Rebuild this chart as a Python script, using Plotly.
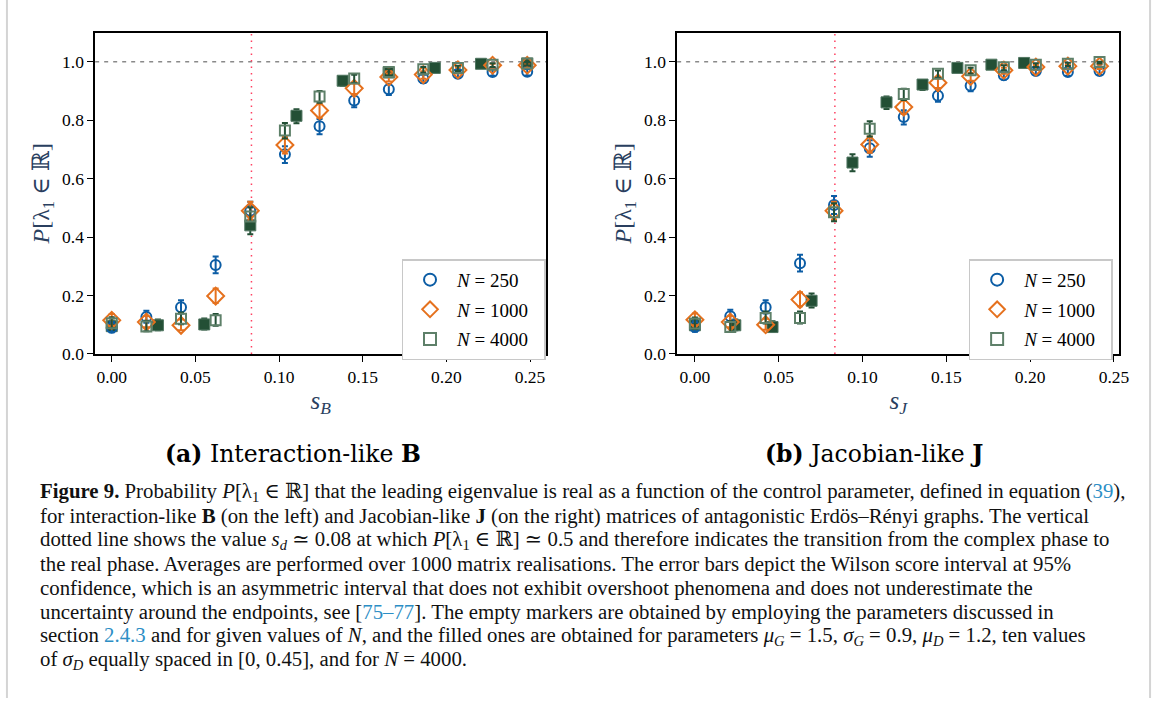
import numpy as np
import plotly.graph_objects as go
from plotly.subplots import make_subplots

# ---------------- data ----------------
# left panel: interaction-like B
sB_open = [0.0, 0.0207, 0.0414, 0.0621, 0.0828, 0.1035, 0.1242, 0.1449, 0.1656, 0.1862, 0.2069, 0.2276, 0.2483]
pB_250 = [0.090, 0.126, 0.160, 0.304, 0.490, 0.683, 0.779, 0.867, 0.906, 0.943, 0.959, 0.965, 0.966]
pB_1000 = [0.115, 0.109, 0.098, 0.198, 0.490, 0.715, 0.833, 0.909, 0.948, 0.956, 0.972, 0.988, 0.988]
pB_4000 = [0.105, 0.094, 0.120, 0.115, 0.470, 0.765, 0.881, 0.943, 0.965, 0.974, 0.979, 0.990, 0.994]
sB_filled = [0.0, 0.0276, 0.0553, 0.0828, 0.1104, 0.1380, 0.1655, 0.1931, 0.2207, 0.2483]
pB_filled = [0.095, 0.098, 0.101, 0.440, 0.815, 0.935, 0.963, 0.979, 0.993, 0.994]

# right panel: Jacobian-like J
sJ_open = [0.0, 0.0211, 0.0422, 0.0627, 0.0830, 0.1043, 0.1246, 0.1450, 0.1645, 0.1843, 0.2034, 0.2225, 0.2414]
pJ_250 = [0.092, 0.129, 0.160, 0.310, 0.510, 0.704, 0.811, 0.884, 0.918, 0.954, 0.968, 0.965, 0.968]
pJ_1000 = [0.117, 0.109, 0.100, 0.186, 0.490, 0.717, 0.845, 0.928, 0.950, 0.971, 0.982, 0.985, 0.985]
pJ_4000 = [0.104, 0.092, 0.123, 0.123, 0.485, 0.771, 0.890, 0.959, 0.971, 0.981, 0.990, 0.993, 0.999]
sJ_filled = [0.0, 0.0241, 0.0463, 0.0696, 0.0940, 0.1143, 0.1358, 0.1566, 0.1769, 0.1964]
pJ_filled = [0.098, 0.098, 0.092, 0.182, 0.655, 0.861, 0.922, 0.979, 0.990, 0.996]

N_labels = ["250", "1000", "4000"]
n_real = 1000          # matrix realisations (caption)
s_d = 0.0835           # transition value (dotted line)

x_ticks = [0.0, 0.05, 0.10, 0.15, 0.20, 0.25]
y_ticks = [0.0, 0.2, 0.4, 0.6, 0.8, 1.0]

# ---------------- style ----------------
BLUE = "#0C5DA5"
ORANGE = "#E5711E"
GREEN = "#234F35"
GREEN_EDGE = "#5E8069"
SERIF = "'Liberation Serif', 'DejaVu Serif', serif"
W, H = 1167, 708


def wilson(p, n=n_real, z=1.96):
    p = np.asarray(p, dtype=float)
    den = 1 + z * z / n
    c = (p + z * z / (2 * n)) / den
    h = z / den * np.sqrt(p * (1 - p) / n + z * z / (4 * n * n))
    return (c + h) - p, p - (c - h)


fig = make_subplots(rows=1, cols=2, horizontal_spacing=0.1)


def add_panel(col, s_open, series, s_fill, p_fill, legend_name):
    up, lo = wilson(p_fill)
    fig.add_trace(go.Scatter(
        x=s_fill, y=p_fill, mode="markers", showlegend=False,
        marker=dict(symbol="square", size=11, color=GREEN,
                    line=dict(color="#4F7560", width=1)),
        error_y=dict(type="data", symmetric=False, array=up, arrayminus=lo,
                     color=GREEN, thickness=2, width=3)), row=1, col=col)
    specs = [("circle-open", BLUE, BLUE, 10),
             ("diamond-open", ORANGE, ORANGE, 13),
             ("square-open", GREEN_EDGE, GREEN, 10)]
    for (sym, mcol, ecol, size), p, lab in zip(specs, series, N_labels):
        up, lo = wilson(p)
        fig.add_trace(go.Scatter(
            x=s_open, y=p, mode="markers", name=f"<i>N</i> = {lab}&nbsp;&nbsp;",
            legend=legend_name, legendgroup=legend_name + lab,
            marker=dict(symbol=sym, size=size, color=mcol,
                        line=dict(color=mcol, width=2)),
            error_y=dict(type="data", symmetric=False, array=up, arrayminus=lo,
                         color=ecol, thickness=2, width=3)), row=1, col=col)


add_panel(1, sB_open, [pB_250, pB_1000, pB_4000], sB_filled, pB_filled, "legend")
add_panel(2, sJ_open, [pJ_250, pJ_1000, pJ_4000], sJ_filled, pJ_filled, "legend2")

ydom = [1 - 359 / H, 1 - 33 / H]
axis_common = dict(showline=True, linecolor="black", linewidth=1.5, mirror=True,
                   ticks="outside", ticklen=6, tickwidth=1.3, tickcolor="black",
                   showgrid=False, zeroline=False,
                   tickfont=dict(family=SERIF, size=17.5, color="black"))

fig.update_layout(
    xaxis=dict(domain=[96 / W, 551 / W], range=[-0.0099, 0.2597], tickvals=x_ticks,
               tickformat=".2f",
               title=dict(text="<i>s</i><sub><i>B</i></sub>", font=dict(family=SERIF, size=25),
                          standoff=6), **axis_common),
    xaxis2=dict(domain=[683 / W, 1129 / W], range=[-0.0106, 0.2532], tickvals=x_ticks,
                tickformat=".2f",
                title=dict(text="<i>s</i><sub><i>J</i></sub>", font=dict(family=SERIF, size=25),
                           standoff=6), **axis_common),
    yaxis=dict(domain=ydom, range=[0, 1.1], tickvals=y_ticks, tickformat=".1f",
               title=dict(text="<i>P</i>[λ<sub>1</sub> ∈ ℝ]", font=dict(family=SERIF, size=24),
                          standoff=6), **axis_common),
    yaxis2=dict(domain=ydom, range=[0, 1.1], tickvals=y_ticks, tickformat=".1f",
                title=dict(text="<i>P</i>[λ<sub>1</sub> ∈ ℝ]", font=dict(family=SERIF, size=24),
                           standoff=6), **axis_common),
)

legend_common = dict(xanchor="left", yanchor="top", bgcolor="white",
                     bordercolor="#c8c8c8", borderwidth=1.5, tracegroupgap=2,
                     itemwidth=44,
                     font=dict(family=SERIF, size=19, color="black"),
                     itemsizing="constant")
LEG_L, LEG_R, LEG_T = 405, 977, 263
fig.update_layout(
    legend=dict(x=LEG_L / W, y=1 - LEG_T / H, **legend_common),
    legend2=dict(x=LEG_R / W, y=1 - LEG_T / H, **legend_common),
)

shapes = []
for xr, yr in [("x", "y"), ("x2", "y2")]:
    shapes.append(dict(type="line", xref=f"{xr} domain", yref=yr, x0=0, x1=1, y0=1, y1=1,
                       line=dict(color="#8a8a8a", width=1.5, dash="4px,5px"), layer="below"))
    shapes.append(dict(type="line", xref=xr, yref=f"{yr} domain", x0=s_d, x1=s_d, y0=0, y1=1,
                       line=dict(color="#ff4060", width=1.5, dash="1.5px,5px"), layer="below"))
# legend shadows
for x0 in [LEG_L, LEG_R]:
    shapes.append(dict(type="rect", xref="paper", yref="paper",
                       x0=(x0 + 4) / W, x1=(x0 + 143) / W,
                       y0=1 - 353 / H, y1=1 - (LEG_T + 4) / H,
                       fillcolor="#c4c4c4", line=dict(width=0), layer="above"))
# page frame lines
for xp in [7, 1160]:
    shapes.append(dict(type="line", xref="paper", yref="paper", x0=xp / W, x1=xp / W,
                       y0=0, y1=1, line=dict(color="#d4d4d4", width=2)))
fig.update_layout(shapes=shapes)

ann = []
TITLE_FONT = dict(family="'DejaVu Serif', serif", size=23.5, color="black")
ann.append(dict(text="<b>(a)</b> Interaction-like <b>B</b>", x=296 / W, y=1 - 461 / H,
                xref="paper", yref="paper", showarrow=False, xanchor="center", yanchor="middle",
                font=TITLE_FONT))
ann.append(dict(text="<b>(b)</b> Jacobian-like <b>J</b>", x=882 / W, y=1 - 461 / H,
                xref="paper", yref="paper", showarrow=False, xanchor="center", yanchor="middle",
                font=TITLE_FONT))

LINK = "#2C8EC5"
caption = [
    "<b>Figure 9.</b> Probability <i>P</i>[λ<sub>1</sub> ∈ ℝ] that the leading eigenvalue is real as a function of the control parameter, defined in equation (<span style='color:%s'>39</span>)," % LINK,
    "for interaction-like <b>B</b> (on the left) and Jacobian-like <b>J</b> (on the right) matrices of antagonistic Erdös–Rényi graphs. The vertical",
    "dotted line shows the value <i>s<sub>d</sub></i> ≃ 0.08 at which <i>P</i>[λ<sub>1</sub> ∈ ℝ] ≃ 0.5 and therefore indicates the transition from the complex phase to",
    "the real phase. Averages are performed over 1000 matrix realisations. The error bars depict the Wilson score interval at 95%",
    "confidence, which is an asymmetric interval that does not exhibit overshoot phenomena and does not underestimate the",
    "uncertainty around the endpoints, see [<span style='color:%s'>75–77</span>]. The empty markers are obtained by employing the parameters discussed in" % LINK,
    "section <span style='color:%s'>2.4.3</span> and for given values of <i>N</i>, and the filled ones are obtained for parameters <i>μ<sub>G</sub></i> = 1.5, <i>σ<sub>G</sub></i> = 0.9, <i>μ<sub>D</sub></i> = 1.2, ten values" % LINK,
    "of <i>σ<sub>D</sub></i> equally spaced in [0, 0.45], and for <i>N</i> = 4000.",
]
for i, line in enumerate(caption):
    ann.append(dict(text=line, x=38 / W, y=1 - (499 + 24.4 * i) / H, xref="paper", yref="paper",
                    showarrow=False, xanchor="left", yanchor="middle", align="left",
                    font=dict(family=SERIF, size=20.8, color="#111111")))
fig.update_layout(annotations=ann)

fig.update_layout(width=W, height=H, margin=dict(l=0, r=0, t=0, b=0),
                  paper_bgcolor="white", plot_bgcolor="white")

fig.write_html("out.html")
